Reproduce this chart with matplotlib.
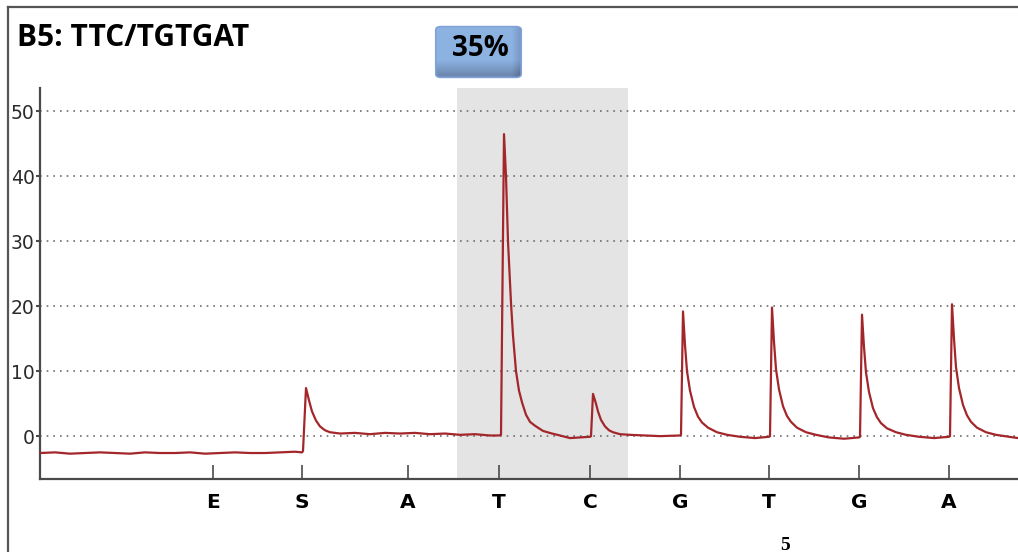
import numpy as np
import matplotlib
matplotlib.use("Agg")
import matplotlib.pyplot as plt
from matplotlib.lines import Line2D
from matplotlib.patches import FancyBboxPatch

# dispensation order and positions on the time axis
disp_labels = ['E', 'S', 'A', 'T', 'C', 'G', 'T', 'G', 'A']
disp_pos = [173, 262, 368, 459, 550, 640, 729, 819, 909]

# highlighted variable region
shade_start, shade_end = 417, 588

y_ticks = [0, 10, 20, 30, 40, 50]

# pyrogram trace
base_t = [0, 15, 30, 45, 60, 75, 90, 105, 120, 135, 150, 165, 180, 195, 210, 225, 240, 255, 262]
base_v = [-2.6, -2.5, -2.7, -2.6, -2.5, -2.6, -2.7, -2.5, -2.6, -2.6, -2.5, -2.7, -2.6, -2.5, -2.6, -2.6, -2.5, -2.4, -2.5]
s_t = [263, 266, 269, 272, 276, 280, 285, 290, 300]
s_v = [-2.3, 7.4, 5.5, 3.8, 2.4, 1.5, 0.9, 0.6, 0.4]
flat_t = [315, 330, 345, 360, 375, 390, 405, 420, 435, 450, 459]
flat_v = [0.5, 0.3, 0.5, 0.4, 0.5, 0.3, 0.4, 0.2, 0.3, 0.1, 0.1]
t1_t = [461, 464, 466, 468, 471, 473, 476, 479, 482, 486, 490, 495, 503, 512, 520, 530, 540, 550]
t1_v = [0.2, 46.5, 40, 30, 20.5, 15.5, 10, 7, 5.2, 3.3, 2.2, 1.6, 0.8, 0.4, 0.1, -0.3, -0.2, -0.1]
c_t = [551, 553, 556, 558, 561, 565, 569, 573, 580, 590, 605, 620, 640]
c_v = [0.0, 6.5, 5.0, 3.8, 2.5, 1.5, 0.9, 0.6, 0.3, 0.2, 0.1, 0.0, 0.1]
g1_t = [641, 643, 645, 647, 650, 654, 658, 662, 668, 677, 687, 700, 715, 729]
g1_v = [0.2, 19.2, 14, 10, 7, 4.5, 3, 2.1, 1.3, 0.6, 0.2, -0.1, -0.3, -0.1]
t2_t = [730, 732, 734, 736, 739, 743, 747, 751, 757, 766, 776, 789, 804, 819]
t2_v = [0.0, 19.8, 14.5, 10.3, 7.2, 4.6, 3.1, 2.2, 1.3, 0.6, 0.2, -0.2, -0.4, -0.2]
g2_t = [820, 822, 824, 826, 829, 833, 837, 841, 847, 856, 866, 879, 894, 909]
g2_v = [-0.1, 18.7, 13.7, 9.8, 6.8, 4.3, 2.9, 2.0, 1.2, 0.6, 0.2, -0.1, -0.3, -0.1]
a_t = [910, 912, 914, 916, 919, 923, 927, 931, 937, 946, 956, 969, 978]
a_v = [0.0, 20.3, 15, 10.6, 7.4, 4.8, 3.2, 2.2, 1.3, 0.6, 0.2, -0.1, -0.3]

trace_t = base_t + s_t + flat_t + t1_t + c_t + g1_t + t2_t + g2_t + a_t
trace_v = base_v + s_v + flat_v + t1_v + c_v + g1_v + t2_v + g2_v + a_v

title = 'B5: TTC/TGTGAT'
percent = '35%'

W, H = 1018, 552
fig = plt.figure(figsize=(W / 100, H / 100), dpi=100)
fig.patch.set_facecolor('white')

ax = fig.add_axes([40 / W, (H - 479) / H, 978 / W, 391 / H])
ax.set_xlim(0, 978)
ax.set_ylim(-6.6, 53.6)

ax.axvspan(shade_start, shade_end, color='#e4e4e4', zorder=0, lw=0)
for y in y_ticks:
    ax.axhline(y, color='#6e6e6e', lw=1.2, ls=(0, (1, 3)), zorder=1)

ax.plot(trace_t, trace_v, color='#a3262a', lw=1.6, zorder=3)

for s in ['top', 'right']:
    ax.spines[s].set_visible(False)
for s in ['left', 'bottom']:
    ax.spines[s].set_color('#4a4a4a')
    ax.spines[s].set_linewidth(1.6)

ax.set_yticks(y_ticks)
ax.set_yticklabels([str(y) for y in y_ticks])
ax.tick_params(axis='y', direction='out', length=3, width=1.5, color='#4a4a4a',
               pad=1, labelsize=13.5, labelcolor='#2b2b2b')
ax.set_xticks(disp_pos)
ax.set_xticklabels(disp_labels, fontweight='bold', fontsize=14.5)
ax.tick_params(axis='x', direction='in', length=10, width=1.2, color='#4a4a4a', pad=10)

# dispensation number under the 7th position
ax.text(745, -0.17, '5', transform=ax.get_xaxis_transform(), ha='center', va='center',
        fontsize=14, fontweight='bold', family='Liberation Serif')

# outer frame
fig.add_artist(Line2D([8 / W, 8 / W], [0, 1 - 7 / H], color='#555555', lw=1.6))
fig.add_artist(Line2D([8 / W, 1], [1 - 7 / H, 1 - 7 / H], color='#555555', lw=1.6))

fig.text(17 / W, 1 - 46 / H, title, fontsize=21.5, fontweight='bold', family='Open Sans',
         va='baseline', ha='left')

# percentage badge with shaded edge
bax = fig.add_axes([434 / W, (H - 79) / H, 89 / W, 54 / H])
bax.set_xlim(0, 1)
bax.set_ylim(0, 1)
bax.axis('off')
yy, xx = np.mgrid[0:1:60j, 0:1:100j]
dark = np.clip((0.35 - yy) / 0.35, 0, 1) * 0.55 + np.clip((xx - 0.88) / 0.12, 0, 1) * 0.35
dark = np.clip(dark, 0, 0.7)
base = np.array([0.55, 0.70, 0.89])
low = np.array([0.28, 0.33, 0.45])
img = base[None, None, :] * (1 - dark[..., None]) + low[None, None, :] * dark[..., None]
im = bax.imshow(img, extent=[0, 1, 0, 1], origin='lower', aspect='auto')
clip = FancyBboxPatch((0.02, 0.03), 0.96, 0.94, boxstyle='round,pad=0,rounding_size=0.06',
                      transform=bax.transAxes, fc='none', ec='#7fa3d6', lw=1.2)
bax.add_patch(clip)
im.set_clip_path(clip)
bax.text(0.52, 0.56, percent, ha='center', va='center', fontsize=20, fontweight='bold',
         family='Open Sans', color='black')

fig.savefig('out.png', dpi=100)
